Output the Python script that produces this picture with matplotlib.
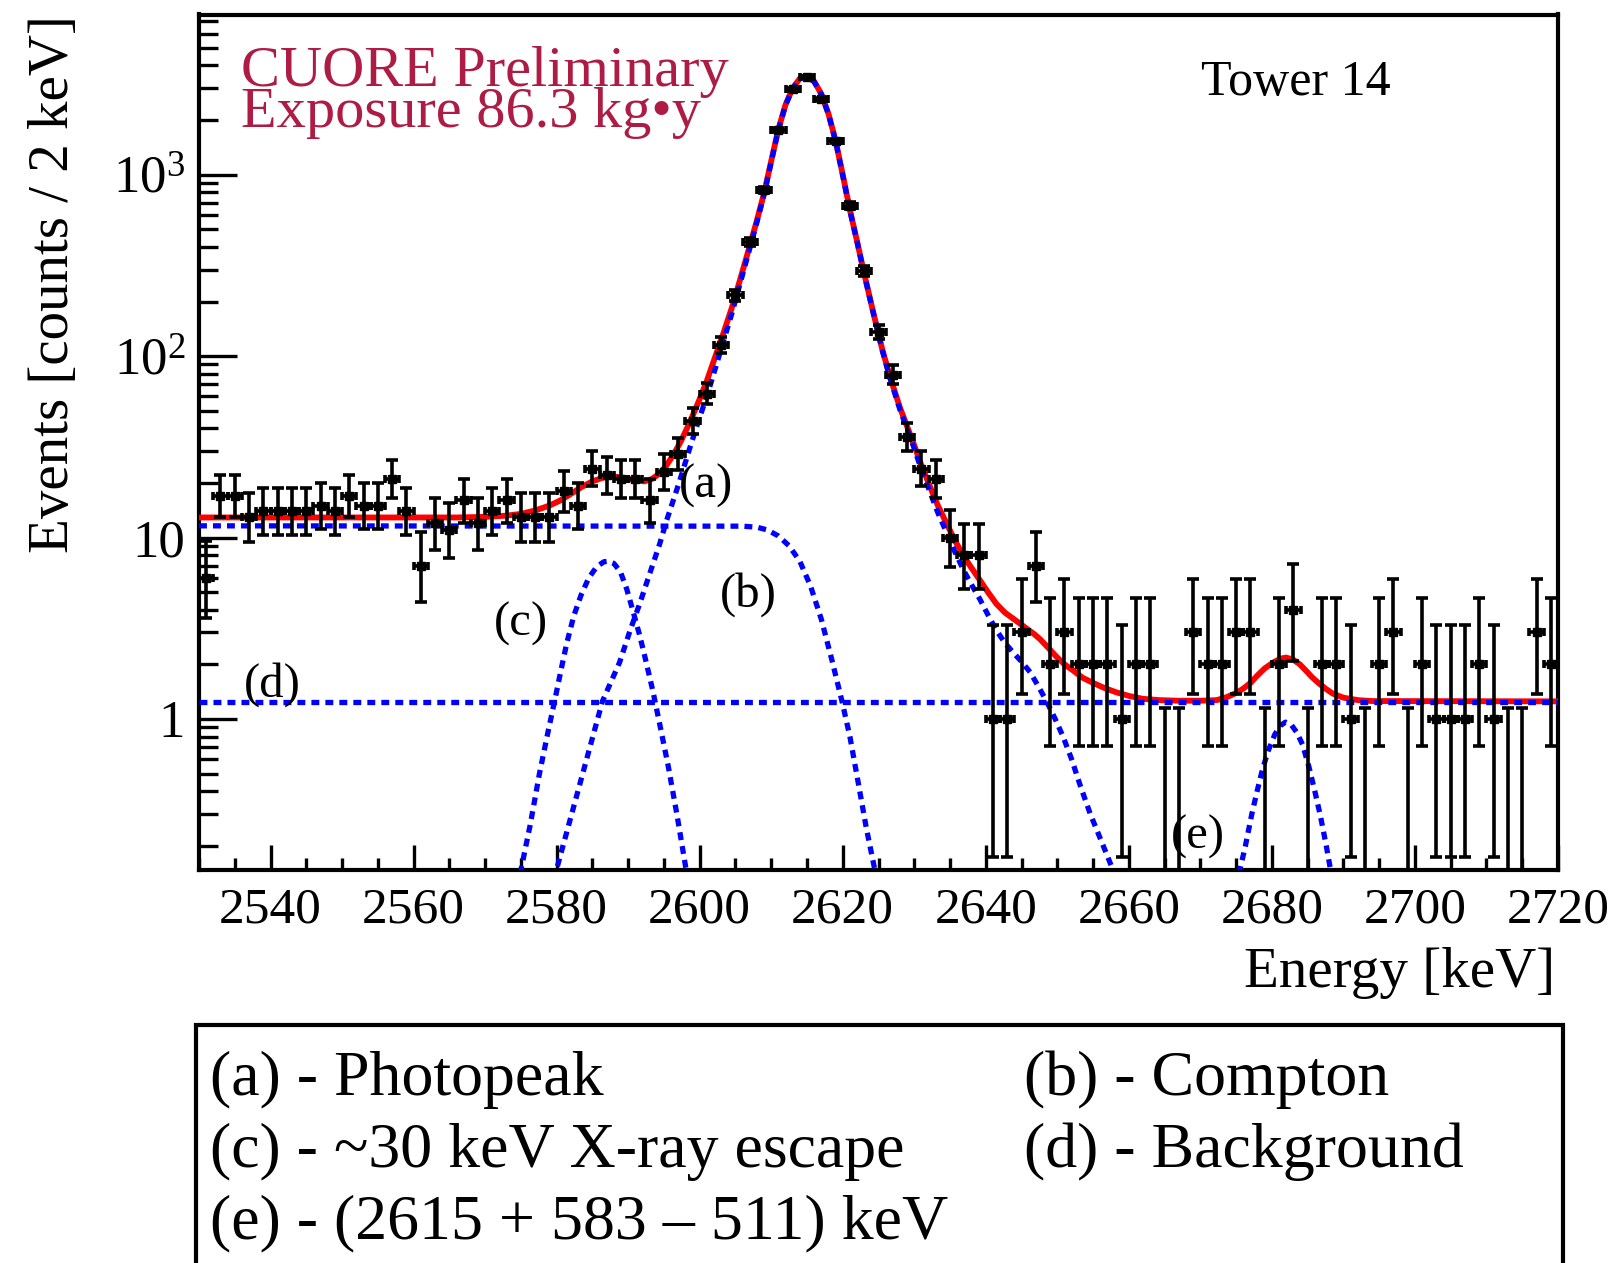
import math
import matplotlib
matplotlib.use("Agg")
import matplotlib.pyplot as plt
import numpy as np
from matplotlib.patches import Rectangle
from matplotlib.ticker import LogLocator, MultipleLocator, NullFormatter

plt.rcParams["font.family"] = ["Liberation Serif", "DejaVu Serif"]
plt.rcParams["mathtext.fontset"] = "custom"
plt.rcParams["mathtext.rm"] = "Liberation Serif"

# ── Data: counts per 2 keV bin, 2530-2720 keV ────────────────────────────────
BIN_LO, BIN_HI, BIN_W = 2530, 2720, 2
counts = [
    6, 17, 17, 13, 14, 14, 14, 14, 15, 14,
    17, 15, 15, 21, 14, 7, 12, 11, 16, 12,
    14, 16, 13, 13, 13, 18, 15, 24, 22, 21,
    21, 16, 23, 29, 44, 62, 115, 216, 425, 824,
    1760, 2960, 3460, 2600, 1540, 676, 294, 136, 79, 36,
    24, 21, 10, 8, 8, 1, 1, 3, 7, 2,
    3, 2, 2, 2, 1, 2, 2, 0, 0, 3,
    2, 2, 3, 3, 0, 2, 4, 0, 2, 2,
    1, 0, 2, 3, 0, 2, 1, 1, 1, 2,
    1, 0, 0, 3, 2,
]
ZERO_BAR_TOP = 1.15   # where ROOT ends the bar of an empty bin

# ── Fit curves (energy keV, counts / 2 keV) ──────────────────────────────────
total_e = [2530.0, 2566.0, 2570.0, 2573.0, 2575.0, 2577.0, 2579.0, 2580.5,
           2582.0, 2583.5, 2585.0, 2586.5, 2588.0, 2589.5, 2591.0, 2592.3,
           2593.3, 2594.3, 2595.3, 2596.3, 2597.3, 2598.6, 2600.0, 2601.0,
           2602.2, 2603.3, 2604.5, 2605.6, 2606.8, 2608.0, 2609.0, 2610.0,
           2611.0, 2612.0, 2613.0, 2614.0, 2615.0, 2616.0, 2617.0, 2618.0,
           2619.0, 2620.0, 2621.0, 2622.0, 2623.0, 2624.3, 2625.5, 2626.6,
           2628.0, 2629.9, 2631.0, 2632.2, 2633.3, 2634.5, 2635.7, 2636.9,
           2638.0, 2639.2, 2640.3, 2641.5, 2642.7, 2643.8, 2644.8, 2645.7,
           2646.7, 2647.6, 2648.8, 2649.9, 2651.0, 2652.2, 2653.5, 2655.0,
           2656.6, 2658.3, 2660.0, 2662.0, 2664.3, 2667.0, 2670.0, 2672.3,
           2673.7, 2675.0, 2676.0, 2677.0, 2678.0, 2679.0, 2680.2, 2681.2,
           2682.0, 2683.0, 2683.9, 2684.8, 2685.6, 2686.5, 2687.5, 2688.5,
           2690.0, 2692.0, 2694.0, 2720.0]
total_y = [12.9, 12.9, 13.0, 13.2, 13.5, 14.1, 15.0, 16.0,
           17.4, 19.0, 20.4, 21.4, 21.7, 21.3, 20.6, 20.4,
           21.0, 22.4, 24.8, 28.5, 33.5, 43.0, 58.0, 73.0,
           100, 133, 185, 260, 380, 560, 790, 1190,
           1780, 2430, 3000, 3390, 3490, 3270, 2790, 2170,
           1540, 1000, 640, 430, 285, 172, 110, 77,
           52, 33, 25, 19.1, 15.0, 12.0, 9.6, 7.9,
           6.8, 5.8, 5.0, 4.3, 3.85, 3.58, 3.35, 3.15,
           2.95, 2.75, 2.45, 2.2, 2.0, 1.85, 1.69, 1.58,
           1.48, 1.40, 1.34, 1.29, 1.27, 1.26, 1.26, 1.27,
           1.32, 1.39, 1.47, 1.58, 1.74, 1.90, 2.05, 2.15,
           2.18, 2.12, 2.0, 1.84, 1.70, 1.58, 1.47, 1.38,
           1.31, 1.27, 1.255, 1.25]

# (a) photopeak
peak_e = [2579.6, 2586.4, 2588.8, 2590.3, 2591.6, 2593.0, 2594.4, 2595.4,
          2596.3, 2597.2, 2598.6, 2600.0, 2601.0, 2602.2, 2603.3, 2604.5,
          2605.6, 2606.8, 2608.0, 2609.0, 2610.0, 2611.0, 2612.0, 2613.0,
          2614.0, 2615.0, 2616.0, 2617.0, 2618.0, 2619.0, 2620.0, 2621.0,
          2622.0, 2623.0, 2624.3, 2625.5, 2626.6, 2628.0, 2629.9, 2631.0,
          2632.2, 2633.3, 2634.5, 2635.7, 2636.9, 2638.0, 2639.2, 2640.3,
          2641.5, 2642.7, 2643.8, 2645.0, 2646.2, 2647.4, 2648.5, 2649.7,
          2650.8, 2652.0, 2653.2, 2654.6, 2656.2, 2658.0]
peak_y = [0.13, 1.25, 2.05, 3.1, 4.3, 6.3, 9.2, 12.5,
          16.0, 20.5, 31, 46, 60, 86, 120, 172,
          247, 367, 547, 777, 1177, 1767, 2417, 2987,
          3377, 3477, 3257, 2777, 2158, 1530, 992, 635,
          428, 284, 171, 108.7, 75.7, 50.7, 31.7, 23.7,
          17.8, 13.7, 10.7, 8.3, 6.6, 5.5, 4.55, 3.75,
          3.07, 2.62, 2.33, 2.07, 1.81, 1.5, 1.25, 1.0,
          0.8, 0.6, 0.43, 0.3, 0.21, 0.14]

# (b) Compton continuum
compton_e = [2530.0, 2606.0, 2608.0, 2609.5, 2611.0, 2612.5, 2614.0, 2615.5,
             2617.0, 2618.5, 2619.9, 2621.0, 2622.1, 2623.3, 2624.6]
compton_y = [11.6, 11.55, 11.4, 11.0, 10.2, 9.0, 7.4, 5.4,
             3.55, 2.1, 1.25, 0.8, 0.46, 0.25, 0.14]

# (c) ~30 keV X-ray escape
xray_e = [2574.9, 2576.3, 2577.6, 2578.8, 2579.8, 2580.6, 2581.4, 2582.4,
          2583.4, 2584.5, 2585.6, 2586.6, 2587.2, 2588.0, 2588.9, 2589.8,
          2590.7, 2591.6, 2592.4, 2593.5, 2594.5, 2595.6, 2596.8, 2598.2]
xray_y = [0.14, 0.26, 0.5, 0.85, 1.3, 1.85, 2.6, 3.7,
          4.8, 6.0, 6.9, 7.35, 7.4, 7.2, 6.5, 5.2,
          3.9, 2.9, 2.15, 1.4, 0.9, 0.55, 0.3, 0.14]

# (d) flat background
bkg_e = [2530.0, 2720.0]
bkg_y = [1.245, 1.245]

# (e) 2615 + 583 - 511 keV
sum_e = [2675.4, 2676.3, 2677.2, 2677.9, 2678.7, 2679.5, 2680.4, 2681.2,
         2681.9, 2682.7, 2683.5, 2684.3, 2685.2, 2686.0, 2686.8, 2687.6, 2688.3]
sum_y = [0.14, 0.2, 0.3, 0.395, 0.53, 0.67, 0.82, 0.92,
         0.96, 0.93, 0.84, 0.72, 0.54, 0.4, 0.29, 0.2, 0.14]

legend_rows = [("(a) - Photopeak", "(b) - Compton"),
               ("(c) - ~30 keV X-ray escape", "(d) - Background"),
               ("(e) - (2615 + 583 \u2013 511) keV", "")]

CRIMSON = "#AE1C45"
BLUE = "#0000ff"


# ── Poisson (Garwood) 68% intervals, like ROOT's kPoisson errors ─────────────
def poisson_cdf(n, mu):
    k = np.arange(n + 1)
    logfact = np.concatenate([[0.0], np.cumsum(np.log(np.arange(1, n + 1)))])
    return np.exp(k * math.log(mu) - mu - logfact).sum()


def garwood(n, cl=0.682689):
    a = (1 - cl) / 2

    def solve(target, m):
        lo, hi = 1e-9, n + 20 * math.sqrt(n + 1) + 20
        for _ in range(70):
            mid = 0.5 * (lo + hi)
            if poisson_cdf(m, mid) > target:
                lo = mid
            else:
                hi = mid
        return 0.5 * (lo + hi)

    upper = solve(a, n)
    lower = solve(1 - a, n - 1) if n > 0 else 0.0
    return lower, upper


centers = np.arange(BIN_LO + BIN_W / 2, BIN_HI, BIN_W)
n_arr = np.array(counts)
filled = n_arr > 0
lo_err, hi_err = [], []
for n in n_arr[filled]:
    lo, hi = garwood(int(n))
    lo_err.append(n - lo)
    hi_err.append(hi - n)

# ── Figure ───────────────────────────────────────────────────────────────────
W, H = 1620, 1263
fig = plt.figure(figsize=(W / 100, H / 100), dpi=100)
ax = fig.add_axes([199 / W, 1 - 870 / H, (1558 - 199) / W, (870 - 14.5) / H])
ax.set_yscale("log")
ax.set_xlim(BIN_LO, BIN_HI)
ax.set_ylim(0.147, 7640)

ax.plot(total_e, total_y, color="#ff0000", lw=4.2, zorder=3)
dots = dict(color=BLUE, lw=3.8, ls=(0, (1.5, 1.15)), dash_capstyle="butt", zorder=4)
for e, y in [(peak_e, peak_y), (compton_e, compton_y), (xray_e, xray_y),
             (bkg_e, bkg_y), (sum_e, sum_y)]:
    ax.plot(e, y, **dots)

# data points
ax.errorbar(centers[filled], n_arr[filled], yerr=[lo_err, hi_err], fmt="none",
            ecolor="k", elinewidth=2.6, capsize=4.5, capthick=2.6, zorder=5)
ax.errorbar(centers[filled], n_arr[filled], xerr=BIN_W / 2, fmt="s", color="k",
            ms=6, elinewidth=2.6, capsize=3.0, capthick=2.6, zorder=6)
zero_x = centers[~filled]
ax.errorbar(zero_x, np.full(len(zero_x), ZERO_BAR_TOP),
            yerr=[np.full(len(zero_x), ZERO_BAR_TOP - 0.01), np.zeros(len(zero_x))],
            fmt="none", ecolor="k", elinewidth=2.6, capsize=4.5, capthick=2.6, zorder=5)

# axes style (ROOT-like)
for s in ax.spines.values():
    s.set_linewidth(3.0)
ax.set_xticks(np.arange(2540, 2721, 20))
ax.xaxis.set_minor_locator(MultipleLocator(5))
ax.tick_params(axis="x", which="major", direction="in", length=18, width=2.4,
               labelsize=37, pad=12)
ax.tick_params(axis="x", which="minor", direction="in", length=8.5, width=2.4)
ax.set_yticks([1, 10, 100, 1000])
ax.set_yticklabels(["1", "10", r"$\mathregular{10^{2}}$", r"$\mathregular{10^{3}}$"])
ax.yaxis.set_minor_locator(LogLocator(base=10, subs=np.arange(2, 10), numticks=30))
ax.yaxis.set_minor_formatter(NullFormatter())
ax.tick_params(axis="y", which="major", direction="in", length=27, width=2.4,
               labelsize=38, pad=10)
ax.tick_params(axis="y", which="minor", direction="in", length=13.5, width=2.4)

fig.text(1555 / W, 1 - 987 / H, "Energy [keV]", fontsize=41, ha="right", va="baseline")
fig.text(54 / W, 1 - 15.5 / H, "Events [counts / 2 keV]", fontsize=41,
         rotation=90, ha="center", va="top")

fig.text(241 / W, 1 - 86.5 / H, "CUORE Preliminary", color=CRIMSON, fontsize=42,
         ha="left", va="baseline")
fig.text(241 / W, 1 - 127 / H, "Exposure 86.3 kg\u2022y", color=CRIMSON, fontsize=42,
         ha="left", va="baseline")
fig.text(1201 / W, 1 - 95 / H, "Tower 14", fontsize=36, ha="left", va="baseline")

for lab, (px, py) in zip(["(a)", "(b)", "(c)", "(d)", "(e)"],
                         [(679, 486), (720, 595), (494, 624), (244, 685), (1171, 837)]):
    fig.text(px / W, 1 - py / H, lab, fontsize=35, ha="left", va="center")

# legend box below the frame
fig.add_artist(Rectangle((196 / W, -0.05), (1563 - 196) / W, 0.05 + 1 - 1025 / H,
                         transform=fig.transFigure, fill=False, edgecolor="k",
                         lw=3.0, clip_on=False))
for row, base in zip(legend_rows, [1095, 1166.7, 1238.3]):
    fig.text(210 / W, 1 - base / H, row[0], fontsize=46, ha="left", va="baseline")
    if row[1]:
        fig.text(1024 / W, 1 - base / H, row[1], fontsize=46, ha="left", va="baseline")

fig.savefig("out.png", dpi=100)
